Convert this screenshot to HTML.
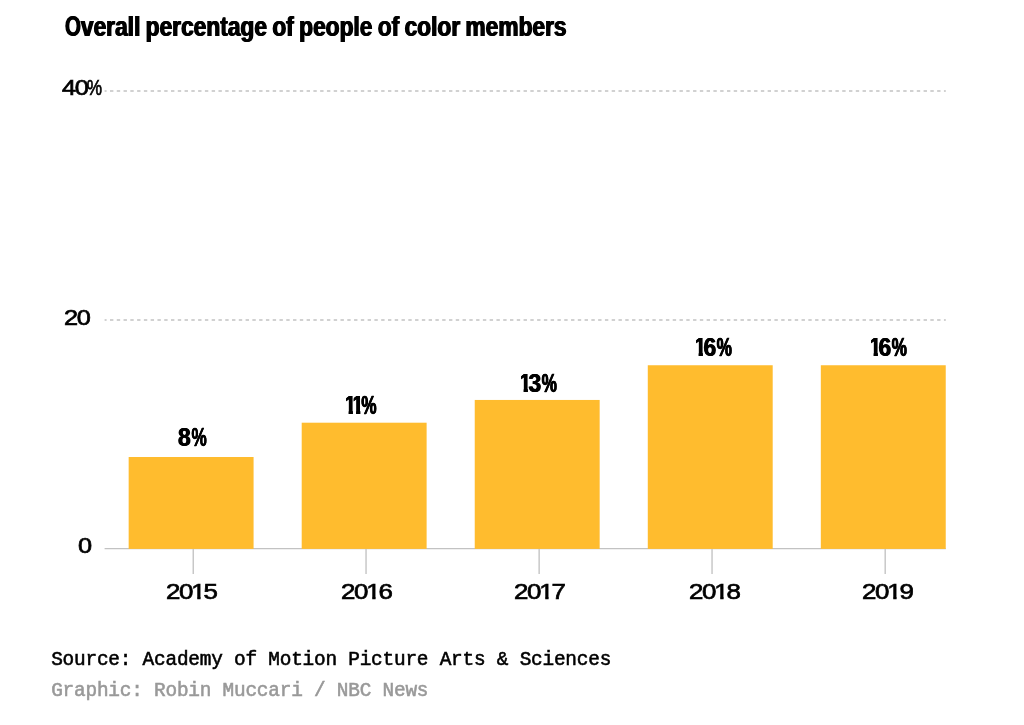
<!DOCTYPE html>
<html lang="en">
<head>
<meta charset="utf-8">
<title>Overall percentage of people of color members</title>
<style>
  html, body { margin: 0; padding: 0; background: #fff; }
  body { width: 1024px; height: 725px; position: relative; overflow: hidden;
         font-family: "Liberation Sans", Arial, sans-serif; color: #000; }
  .t { position: absolute; white-space: nowrap; line-height: 1; margin: 0; }
  .pct, .one { display: inline-block; }
  .pct { transform-origin: 0 50%; }
  .cap { display: inline-block; transform: scale(0.9, 1.06); transform-origin: 0 84.67%; margin-right: -0.078em; }

  /* chart title: bold condensed grotesk */
  h1.t { font-weight: 700; font-size: 28px; left: 64.9px; top: 12.6px;
         transform-origin: 0 0; transform: scaleX(0.812); word-spacing: -1.2px;
         text-shadow: 0.75px 0 0 #000, -0.75px 0 0 #000; }

  /* y axis + x axis tick labels: regular grotesk, wide figures */
  .ax, .yr { font-size: 22.5px; letter-spacing: -1.2px; -webkit-text-stroke: 0.7px #000; }
  .ax { transform-origin: 0 0; transform: scaleX(1.125); }
  .ax .pct { transform: scaleX(0.68); margin-left: -0.02em; margin-right: -0.28em; }
  .yr { transform-origin: 0 0; transform: scaleX(1.15); top: 580.6px; }
  .yr .one { margin: 0 -0.035em 0 -0.03em;
        clip-path: polygon(0 0, 100% 0, 100% calc(0.772em - 1px), calc(0.3398em + 0.45px) calc(0.772em - 1px),
                   calc(0.3398em + 0.45px) 100%, calc(0.2515em - 0.45px) 100%, calc(0.2515em - 0.45px) calc(0.772em - 1px), 0 calc(0.772em - 1px)); }

  /* bar value labels: bold condensed */
  .val { font-weight: 700; font-size: 25.4px; transform-origin: 0 0; transform: scaleX(0.90);
         letter-spacing: -0.2px; text-shadow: 0.5px 0 0 #000, -0.5px 0 0 #000; }
  .val .pct { transform: scaleX(0.75); margin-left: 0.03em; margin-right: -0.222em;
         -webkit-text-stroke: 0.4px #000; }
  .val .one { margin: 0 -0.125em 0 -0.095em; text-shadow: 0.3px 0 0 #000, -0.3px 0 0 #000;
        clip-path: polygon(0.105em 0, 100% 0, 100% calc(0.7447em - 0.9px), calc(0.3706em + 0.4px) calc(0.7447em - 0.9px),
                   calc(0.3706em + 0.4px) 100%, calc(0.2334em - 0.4px) 100%, calc(0.2334em - 0.4px) calc(0.7447em - 0.9px), 0.105em calc(0.7447em - 0.9px)); }

  /* source / credit: monospace */
  .src { font-family: "Liberation Mono", monospace; font-size: 19.4px; letter-spacing: -0.21px; left: 51.2px;
         -webkit-text-stroke: 0.55px currentColor; }

  svg { position: absolute; left: 0; top: 0; }
</style>
</head>
<body>
<svg width="1024" height="725" viewBox="0 0 1024 725">
  <g stroke="#c2c2c2" stroke-width="1.3" fill="none">
    <line x1="104.6" y1="91" x2="945.8" y2="91" stroke-dasharray="3.39 3.39" stroke-dashoffset="1.4"/>
    <line x1="104.6" y1="320" x2="945.8" y2="320" stroke-dasharray="3.39 3.39" stroke-dashoffset="1.4"/>
    <line x1="104.6" y1="548.6" x2="945.8" y2="548.6"/>
  </g>
  <g stroke="#c6c6c6" stroke-width="1.45" fill="none">
    <line x1="193.25" y1="549" x2="193.25" y2="574.1"/>
    <line x1="366.05" y1="549" x2="366.05" y2="574.1"/>
    <line x1="539.15" y1="549" x2="539.15" y2="574.1"/>
    <line x1="712.05" y1="549" x2="712.05" y2="574.1"/>
    <line x1="885.2" y1="549" x2="885.2" y2="574.1"/>
  </g>
  <g fill="#ffbc2e">
    <rect x="128.66" y="457.00" width="124.92" height="91.90"/>
    <rect x="301.70" y="422.70" width="124.92" height="126.20"/>
    <rect x="474.74" y="399.95" width="124.92" height="148.95"/>
    <rect x="647.78" y="365.25" width="124.92" height="183.65"/>
    <rect x="820.82" y="365.25" width="124.92" height="183.65"/>
  </g>
</svg>

<h1 class="t"><span class="cap">O</span>verall percentage of people of color members</h1>

<div class="t ax" style="left:62px; top:77px;">40<span class="pct">%</span></div>
<div class="t ax" style="left:64.2px; top:306.8px;">20</div>
<div class="t ax" style="left:78.2px; top:535px;">0</div>


<div class="t val" style="left:178.3px; top:425px;">8<span class="pct">%</span></div>
<div class="t val" style="left:346.2px; top:393px;"><span class="one">1</span><span class="one">1</span><span class="pct">%</span></div>
<div class="t val" style="left:521.3px; top:371px;"><span class="one">1</span>3<span class="pct">%</span></div>
<div class="t val" style="left:696.4px; top:335px;"><span class="one">1</span>6<span class="pct">%</span></div>
<div class="t val" style="left:871px; top:335px;"><span class="one">1</span>6<span class="pct">%</span></div>

<div class="t yr" style="left:165.9px;">20<span class="one">1</span>5</div>
<div class="t yr" style="left:341.1px;">20<span class="one">1</span>6</div>
<div class="t yr" style="left:514.4px;">20<span class="one">1</span>7</div>
<div class="t yr" style="left:688.8px;">20<span class="one">1</span>8</div>
<div class="t yr" style="left:861.5px;">20<span class="one">1</span>9</div>

<div class="t src" style="top:650.6px;">Source: Academy of Motion Picture Arts &amp; Sciences</div>
<div class="t src" style="top:682.2px; color:#999;">Graphic: Robin Muccari / NBC News</div>
</body>
</html>
